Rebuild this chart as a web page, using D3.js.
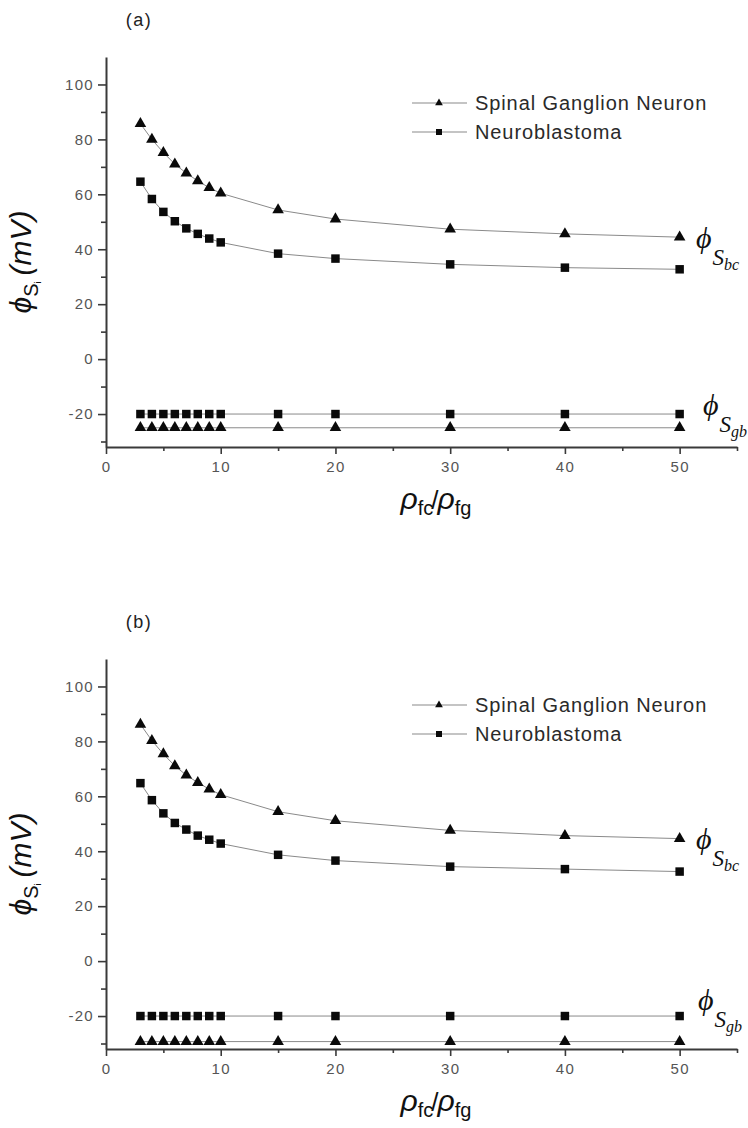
<!DOCTYPE html>
<html>
<head>
<meta charset="utf-8">
<script src="https://cdn.jsdelivr.net/npm/d3@7"></script>
<style>
  body { margin: 0; background: #fff; }
  svg { display: block; }
</style>
</head>
<body>
<svg id="chart" width="748" height="1128"></svg>
<script>
// ratio rho_fc / rho_fg
const ratios = [3, 4, 5, 6, 7, 8, 9, 10, 15, 20, 30, 40, 50];

// panel (a): surface potentials (mV)
const sgnBcA = [85.7, 80.0, 75.2, 71.0, 67.7, 64.9, 62.4, 60.4, 54.3, 51.0, 47.3, 45.6, 44.4];
const nbBcA  = [64.6, 58.3, 53.6, 50.2, 47.6, 45.6, 43.9, 42.5, 38.4, 36.6, 34.5, 33.3, 32.7];
const sgnGbA = [-25, -25, -25, -25, -25, -25, -25, -25, -25, -25, -25, -25, -25];
const nbGbA  = [-20, -20, -20, -20, -20, -20, -20, -20, -20, -20, -20, -20, -20];

// panel (b): surface potentials (mV)
const sgnBcB = [86.2, 80.3, 75.4, 71.1, 67.7, 65.0, 62.6, 60.6, 54.4, 51.1, 47.6, 45.7, 44.6];
const nbBcB  = [64.8, 58.6, 53.8, 50.3, 47.9, 45.7, 44.2, 42.8, 38.7, 36.6, 34.4, 33.5, 32.6];
const sgnGbB = [-29.3, -29.3, -29.3, -29.3, -29.3, -29.3, -29.3, -29.3, -29.3, -29.3, -29.3, -29.3, -29.3];
const nbGbB  = [-20, -20, -20, -20, -20, -20, -20, -20, -20, -20, -20, -20, -20];

const seriesNames = ["Spinal Ganglion Neuron", "Neuroblastoma"];
const xTicks = [0, 10, 20, 30, 40, 50];
const xMinorTicks = [5, 15, 25, 35, 45, 55];
const yTicks = [-20, 0, 20, 40, 60, 80, 100];
const yMinorTicks = [-30, -10, 10, 30, 50, 70, 90];
const xDomain = [0, 55];
const yDomain = [-32, 110];

const SANS = "'Liberation Sans', Arial, sans-serif";
const SERIF = "'Liberation Serif', 'Times New Roman', serif";
const AXIS = "#3a3a3a";
const TICKTXT = "#555";
const LINE = "#8a8a8a";
const MARK = "#0a0a0a";
const PHI = "\u03D5";

const svg = d3.select("#chart");

const panels = [
  { letter: "(a)", dy: 0,   sgn: [sgnBcA, sgnGbA], nb: [nbBcA, nbGbA],
    bc: { x: 696, y: 248 }, gb: { x: 703, y: 415 } },
  { letter: "(b)", dy: 602, sgn: [sgnBcB, sgnGbB], nb: [nbBcB, nbGbB],
    bc: { x: 696, y: 849 }, gb: { x: 698, y: 1010 } }
];

const x = d3.scaleLinear().domain(xDomain).range([106, 737]);
const plain = d => String(d);

const triangle = d3.symbol().type(d3.symbolTriangle).size(58);
const square = d3.symbol().type(d3.symbolSquare).size(72);
const triangleSmall = d3.symbol().type(d3.symbolTriangle).size(26);
const squareSmall = d3.symbol().type(d3.symbolSquare).size(36);

function drawSeries(g, y, values, shape) {
  const pts = ratios.map((r, i) => [r, values[i]]);
  g.append("path")
    .datum(pts)
    .attr("fill", "none")
    .attr("stroke", LINE)
    .attr("stroke-width", 1)
    .attr("d", d3.line().x(d => x(d[0])).y(d => y(d[1])));
  g.selectAll(null)
    .data(pts)
    .join("path")
    .attr("d", shape)
    .attr("fill", MARK)
    .attr("transform", d => `translate(${x(d[0])},${y(d[1])})`);
}

function phiLabel(g, pos, sub) {
  const t = g.append("text")
    .attr("x", pos.x).attr("y", pos.y)
    .style("font-family", SERIF)
    .style("font-style", "italic")
    .attr("fill", "#111");
  t.append("tspan").style("font-size", "30px").text(PHI);
  t.append("tspan").style("font-size", "23px").attr("dx", 1).attr("dy", 17).text("S");
  t.append("tspan").style("font-size", "16px").attr("dy", 5).text(sub);
}

panels.forEach(p => {
  const g = svg.append("g").attr("transform", `translate(0,${p.dy})`);
  const y = d3.scaleLinear().domain(yDomain).range([447, 57]);

  // panel letter
  g.append("text")
    .attr("x", 139).attr("y", 26)
    .attr("text-anchor", "middle")
    .style("font-family", SANS).style("font-size", "18px")
    .style("letter-spacing", "1.5px")
    .attr("fill", "#222")
    .text(p.letter);

  // y axis
  const yAxis = g.append("g").attr("transform", "translate(106,0)")
    .call(d3.axisLeft(y).tickValues(yTicks).tickFormat(plain).tickSize(8).tickSizeOuter(0).tickPadding(5));
  g.append("g").attr("transform", "translate(106,0)")
    .call(d3.axisLeft(y).tickValues(yMinorTicks).tickSize(5).tickSizeOuter(0).tickFormat(""))
    .call(a => a.select(".domain").remove());

  // x axis
  g.append("g").attr("transform", "translate(0,447)")
    .call(d3.axisBottom(x).tickValues(xTicks).tickFormat(plain).tickSize(7).tickSizeOuter(0).tickPadding(7));
  g.append("g").attr("transform", "translate(0,447)")
    .call(d3.axisBottom(x).tickValues(xMinorTicks).tickSize(4).tickSizeOuter(0).tickFormat(""))
    .call(a => a.select(".domain").remove());

  g.selectAll(".domain").attr("stroke", AXIS).attr("stroke-width", 2);
  g.selectAll(".tick line").attr("stroke", AXIS).attr("stroke-width", 1.6);
  g.selectAll(".tick text")
    .attr("fill", TICKTXT)
    .style("font-family", SANS)
    .style("font-size", "15px")
    .style("letter-spacing", "1.3px");
  yAxis.selectAll(".tick text").attr("dx", "1px");

  // data
  drawSeries(g, y, p.sgn[0], triangle);
  drawSeries(g, y, p.nb[0], square);
  drawSeries(g, y, p.nb[1], square);
  drawSeries(g, y, p.sgn[1], triangle);

  // legend
  const legend = g.append("g");
  const shapes = [triangleSmall, squareSmall];
  seriesNames.forEach((name, i) => {
    const ly = 103 + i * 29;
    legend.append("line")
      .attr("x1", 412).attr("x2", 467).attr("y1", ly).attr("y2", ly)
      .attr("stroke", LINE).attr("stroke-width", 1.2);
    legend.append("path").attr("d", shapes[i]).attr("fill", MARK)
      .attr("transform", `translate(439,${ly})`);
    legend.append("text")
      .attr("x", 475).attr("y", ly + 7)
      .style("font-family", SANS).style("font-size", "20px")
      .style("letter-spacing", "0.9px")
      .attr("fill", "#2a2a2a")
      .text(name);
  });

  // y axis title: phi_{S_i} (mV)
  const yl = g.append("text")
    .attr("transform", "translate(31,262) rotate(-90)")
    .attr("text-anchor", "middle")
    .style("font-family", SANS)
    .attr("fill", "#111");
  yl.append("tspan").style("font-size", "30px").style("font-style", "italic").text(PHI);
  yl.append("tspan").style("font-size", "20px").attr("dy", 7).text("S");
  yl.append("tspan").style("font-size", "9px").attr("dy", 3).text("i");
  yl.append("tspan").style("font-size", "30px").style("font-style", "italic").attr("dy", -10).attr("dx", 6).text("(mV)");

  // x axis title: rho_fc / rho_fg
  const xl = g.append("text")
    .attr("x", 436).attr("y", 509)
    .attr("text-anchor", "middle")
    .style("font-family", SANS)
    .attr("fill", "#111");
  xl.append("tspan").style("font-size", "30px").style("font-style", "italic").text("\u03C1");
  xl.append("tspan").style("font-size", "20px").attr("dy", 6).text("fc");
  xl.append("tspan").style("font-size", "26px").attr("dy", -6).attr("dx", -2).text("/");
  xl.append("tspan").style("font-size", "30px").style("font-style", "italic").attr("dx", -1).text("\u03C1");
  xl.append("tspan").style("font-size", "20px").attr("dy", 6).text("fg");

  // curve labels
  phiLabel(svg, p.bc, "bc");
  phiLabel(svg, p.gb, "gb");
});
</script>
</body>
</html>
